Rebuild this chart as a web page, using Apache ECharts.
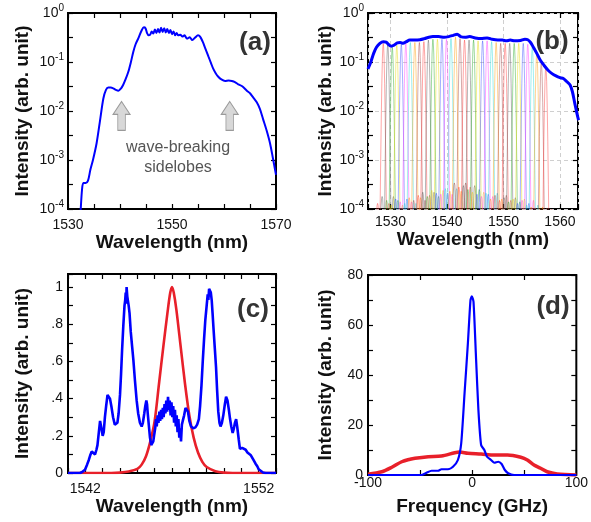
<!DOCTYPE html>
<html><head><meta charset="utf-8">
<script src="https://cdn.jsdelivr.net/npm/echarts@6.0.0/dist/echarts.min.js"></script>
<style>html,body{margin:0;padding:0;background:#fff}#chart{width:591px;height:522px}</style>
</head><body><div id="chart"></div>
<script>
// ---------- DATA ----------
// (a) spectrum: [wavelength nm, intensity]
const aSpectrum = [[1532.3,5e-5],[1532.45,1e-4],[1532.7,2.5e-4],[1532.95,3.4e-4],[1533.4,3.4e-4],[1533.85,3.8e-4],[1534.3,6.3e-4],[1534.8,1e-3],[1535.5,2.2e-3],[1536.15,6.3e-3],[1536.8,0.018],[1537.3,0.027],[1537.75,0.030],[1538.2,0.030],[1538.7,0.029],[1539.2,0.027],[1539.7,0.026],[1540.2,0.029],[1540.6,0.034],[1541.1,0.045],[1541.6,0.063],[1542.1,0.1],[1542.55,0.16],[1543.0,0.23],[1543.5,0.30],[1544.2,0.45],[1544.6,0.51],[1544.9,0.49],[1545.2,0.39],[1545.5,0.35],[1545.8,0.36],[1546.1,0.42],[1546.4,0.38],[1546.7,0.46],[1547.0,0.39],[1547.3,0.47],[1547.6,0.40],[1547.9,0.50],[1548.2,0.41],[1548.5,0.49],[1548.8,0.40],[1549.1,0.47],[1549.4,0.39],[1549.7,0.45],[1550.0,0.37],[1550.3,0.42],[1550.6,0.35],[1550.9,0.39],[1551.2,0.35],[1551.6,0.36],[1552.0,0.33],[1552.4,0.35],[1552.9,0.30],[1553.4,0.32],[1553.9,0.28],[1554.5,0.32],[1555.0,0.35],[1555.4,0.33],[1555.9,0.26],[1556.4,0.19],[1557.0,0.13],[1557.5,0.095],[1557.9,0.074],[1558.4,0.059],[1558.9,0.050],[1559.5,0.044],[1560.2,0.041],[1560.9,0.042],[1561.5,0.041],[1562.1,0.039],[1562.75,0.035],[1563.5,0.032],[1564.4,0.026],[1565.0,0.023],[1565.6,0.019],[1566.3,0.015],[1566.9,0.011],[1567.5,0.0069],[1568.2,0.004],[1568.85,0.0022],[1569.4,0.0011],[1570.0,5e-4]];

// (b) envelope: [wavelength nm, intensity]
const bEnvelope = [[1526.0,0.072],[1526.5,0.1],[1527.0,0.15],[1527.5,0.2],[1528.1,0.24],[1528.7,0.26],[1529.2,0.255],[1529.6,0.23],[1530.1,0.21],[1530.6,0.22],[1531.2,0.245],[1531.7,0.25],[1532.2,0.24],[1532.8,0.26],[1533.4,0.28],[1534.3,0.28],[1535.2,0.285],[1536.0,0.30],[1536.8,0.32],[1537.5,0.33],[1538.5,0.33],[1539.5,0.32],[1540.3,0.33],[1541.1,0.35],[1541.8,0.37],[1542.4,0.33],[1543.2,0.32],[1544.0,0.33],[1545.0,0.31],[1546.0,0.30],[1547.1,0.31],[1548.0,0.29],[1549.0,0.28],[1549.8,0.28],[1550.5,0.27],[1551.2,0.28],[1552.0,0.27],[1553.0,0.275],[1553.8,0.29],[1554.3,0.285],[1554.8,0.25],[1555.3,0.2],[1555.9,0.15],[1556.5,0.11],[1557.2,0.085],[1557.9,0.068],[1558.6,0.058],[1559.3,0.052],[1560.0,0.048],[1560.6,0.046],[1561.2,0.04],[1561.8,0.034],[1562.2,0.025],[1562.6,0.015],[1563.0,0.009],[1563.3,0.0065]];
// (b) filter channels
const bChannelCenter = [1528.7,1529.5,1530.3,1531.1,1531.9,1532.7,1533.5,1534.3,1535.1,1535.9,1536.7,1537.5,1538.3,1539.1,1539.9,1540.7,1541.5,1542.3,1543.1,1543.9,1544.7,1545.5,1546.3,1547.1,1547.9,1548.7,1549.5,1550.3,1551.1,1551.9,1552.7,1553.5,1554.3,1555.1,1555.9,1556.7,1557.5];
const bChannelPeak = [0.24,0.23,0.2,0.22,0.23,0.24,0.25,0.25,0.25,0.26,0.28,0.29,0.29,0.29,0.29,0.3,0.32,0.3,0.28,0.28,0.28,0.27,0.27,0.27,0.26,0.25,0.24,0.24,0.24,0.24,0.24,0.24,0.23,0.2,0.15,0.1,0.08];
const bChannelSidelobe = [1.3e-4,1.8e-4,1.5e-4,1.2e-4,1.6e-4,1.4e-4,1.3e-4,1.7e-4,1.5e-4,1.9e-4,2.2e-4,1.8e-4,2.4e-4,2.1e-4,2.0e-4,2.6e-4,2.3e-4,3.4e-4,2.8e-4,3.0e-4,2.5e-4,2.2e-4,2.0e-4,1.8e-4,2.1e-4,1.6e-4,1.9e-4,1.5e-4,1.7e-4,1.4e-4,1.6e-4,1.3e-4,1.5e-4,1.2e-4,1.1e-4,1.05e-4,1.0e-4];
// filter transfer shape (offset nm, gain relative to peak) and sidelobe shape (offset nm, gain relative to sidelobe level)
const bLobeOffset = [-0.65,-0.55,-0.45,-0.35,-0.25,-0.15,-0.07,0,0.07,0.15,0.25,0.35,0.45,0.55,0.65];
const bLobeGain   = [1e-4,5e-4,4e-3,0.03,0.15,0.5,0.85,1,0.85,0.5,0.15,0.03,4e-3,5e-4,1e-4];
const bSideOffset = [-1.4,-1.25,-1.1,-1.0,-0.9,-0.8,-0.7];
const bSideGain   = [0.01,0.5,0.9,1,0.9,0.5,0.01];

// (c) spectra: [wavelength nm, intensity]
const cBlue = [[1541.0,0],[1541.7,0],[1541.85,0.008],[1541.98,0.018],[1542.1,0.045],[1542.2,0.07],[1542.3,0.1],[1542.37,0.115],[1542.47,0.105],[1542.56,0.10],[1542.64,0.125],[1542.7,0.15],[1542.78,0.22],[1542.85,0.28],[1542.93,0.24],[1543.0,0.2],[1543.06,0.22],[1543.13,0.3],[1543.2,0.36],[1543.28,0.42],[1543.35,0.43],[1543.42,0.40],[1543.5,0.36],[1543.6,0.30],[1543.7,0.26],[1543.77,0.25],[1543.85,0.27],[1543.92,0.32],[1544.0,0.42],[1544.06,0.53],[1544.12,0.66],[1544.19,0.79],[1544.26,0.90],[1544.3,0.93],[1544.33,0.97],[1544.36,0.91],[1544.38,1.0],[1544.42,0.95],[1544.46,0.96],[1544.5,0.90],[1544.55,0.86],[1544.62,0.76],[1544.7,0.68],[1544.77,0.61],[1544.86,0.50],[1544.96,0.39],[1545.05,0.32],[1545.15,0.27],[1545.25,0.25],[1545.32,0.27],[1545.4,0.32],[1545.46,0.36],[1545.52,0.39],[1545.56,0.37],[1545.6,0.32],[1545.66,0.26],[1545.73,0.19],[1545.8,0.15],[1545.86,0.14],[1545.92,0.17],[1545.98,0.21],[1546.03,0.24],[1546.08,0.29],[1546.12,0.25],[1546.17,0.31],[1546.22,0.27],[1546.27,0.33],[1546.32,0.28],[1546.37,0.34],[1546.42,0.29],[1546.47,0.35],[1546.52,0.30],[1546.57,0.37],[1546.62,0.32],[1546.67,0.39],[1546.72,0.33],[1546.77,0.41],[1546.82,0.34],[1546.87,0.39],[1546.92,0.31],[1546.97,0.38],[1547.02,0.30],[1547.07,0.36],[1547.12,0.27],[1547.17,0.34],[1547.22,0.25],[1547.27,0.31],[1547.32,0.22],[1547.37,0.29],[1547.42,0.19],[1547.47,0.24],[1547.52,0.17],[1547.57,0.26],[1547.62,0.28],[1547.7,0.31],[1547.78,0.35],[1547.86,0.36],[1547.92,0.33],[1548.0,0.28],[1548.1,0.25],[1548.23,0.24],[1548.35,0.245],[1548.45,0.26],[1548.55,0.29],[1548.62,0.36],[1548.7,0.47],[1548.78,0.61],[1548.85,0.72],[1548.92,0.82],[1549.0,0.9],[1549.06,0.96],[1549.1,0.93],[1549.14,0.99],[1549.19,0.995],[1549.24,0.97],[1549.29,0.93],[1549.34,0.86],[1549.4,0.77],[1549.47,0.67],[1549.54,0.57],[1549.6,0.45],[1549.67,0.33],[1549.74,0.27],[1549.8,0.25],[1549.88,0.27],[1549.96,0.31],[1550.05,0.37],[1550.12,0.41],[1550.2,0.39],[1550.28,0.34],[1550.35,0.29],[1550.42,0.25],[1550.5,0.215],[1550.57,0.24],[1550.63,0.27],[1550.7,0.29],[1550.76,0.25],[1550.85,0.18],[1550.92,0.13],[1550.98,0.12],[1551.05,0.135],[1551.15,0.14],[1551.25,0.125],[1551.35,0.11],[1551.45,0.105],[1551.55,0.095],[1551.7,0.07],[1551.82,0.05],[1551.92,0.036],[1552.0,0.02],[1552.1,0.01],[1552.25,0.003],[1552.4,0],[1553.0,0]];
const cRed = [[1541.0,0],[1543.5,0],[1544.0,0.002],[1544.5,0.008],[1545.0,0.022],[1545.25,0.045],[1545.5,0.09],[1545.75,0.17],[1546.0,0.28],[1546.25,0.48],[1546.5,0.68],[1546.75,0.87],[1546.9,0.97],[1547.0,1.0],[1547.1,0.97],[1547.25,0.88],[1547.5,0.68],[1547.75,0.48],[1548.0,0.31],[1548.25,0.19],[1548.5,0.11],[1548.75,0.06],[1549.0,0.032],[1549.5,0.01],[1550.0,0.002],[1550.5,0],[1553.0,0]];

// (d) spectra: [frequency GHz, intensity]
const dBlue = [[-100,0],[-48.6,0],[-43.8,0.9],[-39,1.7],[-32.7,1.7],[-29.5,2.3],[-23.2,2.3],[-18.4,3.3],[-13.7,6],[-10.5,12.7],[-7.3,32.7],[-4.1,52.7],[-1.6,70],[-0.3,71.5],[1.3,69.3],[3.8,46],[6,26],[8.6,12],[11.7,10],[14.3,7.3],[18.1,6],[21.3,4.9],[25.1,5.3],[28.3,4.4],[31.4,2],[34.6,0.7],[40.3,0],[100,0]];
const dRed = [[-100,0.3],[-86.7,1.3],[-77.1,3.1],[-67.6,5.3],[-59.7,6.3],[-54.9,6.7],[-42.2,7.3],[-29.5,7.6],[-16.8,8.9],[-12,9.2],[-4.1,8.7],[8.6,8.4],[21.3,8.0],[34,8.0],[46.7,7.1],[53,6.0],[59.4,4.0],[65.7,2.7],[72,1.3],[81.6,0.4],[100,0]];

// ---------- CHART ----------
const FONT = '"Liberation Sans", Arial, Helvetica, sans-serif';
const INK = '#111';
const chart = echarts.init(document.getElementById('chart'));
const tick = {show:true, inside:true, length:5, lineStyle:{color:'#000', width:1.2}};
const noLine = {show:false, onZero:false};
const nameStyle = {fontFamily:FONT, fontWeight:'bold', fontSize:19, color:INK};
const labelBase = {color:INK, fontSize:14, fontFamily:FONT};
const dashed = {show:true, lineStyle:{color:'#cfcfcf', type:[4,3], width:1}};
const logRich = {b:{fontSize:14, fontFamily:FONT, color:INK, lineHeight:20}, e:{fontSize:10, fontFamily:FONT, color:INK, verticalAlign:'top', lineHeight:10}};
const logFmt = v => '{b|10}{e|' + Math.round(v) + '}';
const log = v => Math.log10(v);

function xPair(g, scale, fmt, margin, name, nameGap, split) {
  return [
    Object.assign({type:'value', gridIndex:g, position:'bottom', axisLine:noLine, axisTick:tick,
      splitLine: split || {show:false},
      axisLabel:Object.assign({}, labelBase, {margin:margin, formatter:fmt}),
      name:name, nameLocation:'middle', nameGap:nameGap, nameTextStyle:nameStyle}, scale),
    Object.assign({type:'value', gridIndex:g, position:'top', axisLine:noLine, axisTick:tick,
      splitLine:{show:false}, axisLabel:{show:false}}, scale)
  ];
}
function yPair(g, scale, label, nameGap, split, minor) {
  return [
    Object.assign({type:'value', gridIndex:g, position:'left', axisLine:noLine, axisTick:tick,
      minorTick: minor || {show:false}, splitLine: split || {show:false},
      axisLabel:label, name:'Intensity (arb. unit)', nameLocation:'middle', nameGap:nameGap, nameTextStyle:nameStyle}, scale),
    Object.assign({type:'value', gridIndex:g, position:'right', axisLine:noLine, axisTick:tick,
      minorTick: minor || {show:false}, splitLine:{show:false}, axisLabel:{show:false}}, scale)
  ];
}
const minorHalf = {show:true, splitNumber:2, length:5, lineStyle:{color:'#000', width:1.2}};

const xAxis = [].concat(
  xPair(0, {min:1530, max:1570, interval:5}, v => ((v - 1530) % 20 === 0 ? String(v) : ''), 9, 'Wavelength (nm)', 20),
  xPair(1, {min:1526, max:1563.2, splitNumber:4}, v => (Math.abs(v % 10) < 1e-6 ? String(v) : ''), 6, 'Wavelength (nm)', 20, dashed),
  xPair(2, {min:1541, max:1553, interval:1}, v => ((v === 1542 || v === 1552) ? String(v) : ''), 9, 'Wavelength (nm)', 22),
  xPair(3, {min:-100, max:100, interval:50}, v => (v % 100 === 0 ? String(v) : ''), 1, 'Frequency (GHz)', 22)
);
const yAxis = [].concat(
  yPair(0, {min:-4, max:0, interval:1}, {margin:4, formatter:logFmt, rich:logRich}, 36, null, minorHalf),
  yPair(1, {min:-4, max:0, interval:1}, {margin:4, formatter:logFmt, rich:logRich}, 33, dashed, minorHalf),
  yPair(2, {min:0, max:1.07, interval:0.1}, Object.assign({}, labelBase, {margin:5, formatter: v => {
      const r = Math.round(v * 10);
      if (Math.abs(v * 10 - r) > 1e-6 || r % 2) return '';
      return r === 0 ? '0' : (r === 10 ? '1' : '.' + r);
    }}), 36),
  yPair(3, {min:0, max:80, interval:10}, Object.assign({}, labelBase, {margin:5, formatter: v => (v % 20 === 0 ? String(v) : '')}), 33)
);

const series = [];
// (a)
series.push({type:'line', xAxisIndex:0, yAxisIndex:0, data:aSpectrum.map(p => [p[0], log(p[1])]),
  showSymbol:false, smooth:0.3, lineStyle:{color:'#0000ff', width:2}, z:5,
  markPoint:{symbol:'path://M9,0 L18,13 L13,13 L13,29 L5,29 L5,13 L0,13 Z', symbolSize:[17,29], symbolKeepAspect:false,
    itemStyle:{color:'#d8d8d8', borderColor:'#9a9a9a', borderWidth:1}, label:{show:false}, silent:true,
    data:[{coord:[1540.3, -2.1]}, {coord:[1561.1, -2.1]}]}});
// (b) filter channels
const chanColors = ['#ff3333','#555555','#22aa22','#e6d800','#3344ff','#ff33ff','#22d8d8','#ff9900','#a03a3a'];
bChannelCenter.forEach((c, k) => {
  const peak = bChannelPeak[k], side = bChannelSidelobe[k];
  const pts = [];
  bSideOffset.forEach((o, i) => pts.push([c + o, side * bSideGain[i]]));
  bLobeOffset.forEach((o, i) => pts.push([c + o, peak * bLobeGain[i]]));
  for (let i = bSideOffset.length - 1; i >= 0; i--) pts.push([c - bSideOffset[i], side * bSideGain[i]]);
  series.push({type:'line', xAxisIndex:2, yAxisIndex:2, data:pts.map(p => [p[0], log(p[1])]), showSymbol:false,
    silent:true, lineStyle:{color:chanColors[k % chanColors.length], width:0.8, opacity:0.55}, z:3});
});
series.push({type:'line', xAxisIndex:2, yAxisIndex:2, data:bEnvelope.map(p => [p[0], log(p[1])]),
  showSymbol:false, smooth:0.3, lineStyle:{color:'#0000ff', width:3}, z:6});
// (c)
series.push({type:'line', xAxisIndex:4, yAxisIndex:4, data:cRed, showSymbol:false, smooth:0.3,
  lineStyle:{color:'#e8202a', width:2.6}, z:4});
series.push({type:'line', xAxisIndex:4, yAxisIndex:4, data:cBlue, showSymbol:false,
  lineStyle:{color:'#0000ff', width:2.6}, z:5});
// (d)
series.push({type:'line', xAxisIndex:6, yAxisIndex:6, data:dRed, showSymbol:false, smooth:0.3,
  lineStyle:{color:'#e8202a', width:3.5}, z:4});
series.push({type:'line', xAxisIndex:6, yAxisIndex:6, data:dBlue, showSymbol:false, smooth:0.2,
  lineStyle:{color:'#0000ff', width:2.2}, z:5});

const gridBase = {show:true, borderColor:'#000', borderWidth:2, backgroundColor:'rgba(0,0,0,0)', containLabel:false};
const panelText = (t, x, y) => ({type:'text', x:x, y:y, z:100,
  style:{text:t, fill:'#333', font:'bold 26px ' + FONT, textAlign:'center', textVerticalAlign:'middle'}});

chart.setOption({
  animation:false,
  backgroundColor:'#fff',
  grid:[
    Object.assign({left:68, top:13, width:208, height:196}, gridBase),
    Object.assign({left:368, top:13, width:210, height:196}, gridBase),
    Object.assign({left:68, top:274, width:208, height:199}, gridBase),
    Object.assign({left:368, top:275, width:210, height:200}, gridBase)
  ],
  xAxis:xAxis,
  yAxis:yAxis,
  series:series,
  graphic:[
    panelText('(a)', 255, 43), panelText('(b)', 552, 42), panelText('(c)', 253, 310), panelText('(d)', 553, 307),
    {type:'text', x:178, y:158, z:100, style:{text:'wave-breaking\nsidelobes', fill:'#555', font:'16px ' + FONT,
      textAlign:'center', textVerticalAlign:'middle', lineHeight:20}}
  ]
});
</script></body></html>
